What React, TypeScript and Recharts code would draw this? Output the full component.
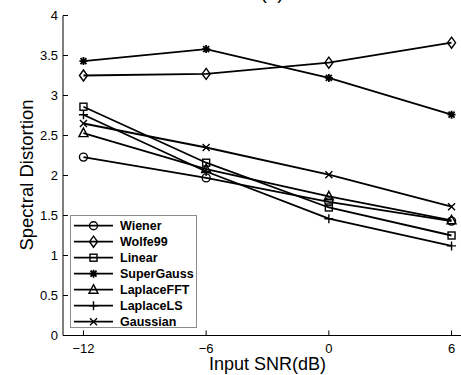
import { LineChart, Line, XAxis, YAxis } from "recharts";

const snr = [-12, -6, 0, 6];
const wiener = [2.23, 1.97, 1.67, 1.43];
const wolfe99 = [3.25, 3.27, 3.41, 3.66];
const linear = [2.86, 2.16, 1.6, 1.25];
const superGauss = [3.43, 3.58, 3.22, 2.76];
const laplaceFFT = [2.53, 2.08, 1.74, 1.44];
const laplaceLS = [2.76, 2.05, 1.46, 1.12];
const gaussian = [2.65, 2.35, 2.01, 1.61];
const yTicks = [0, 0.5, 1, 1.5, 2, 2.5, 3, 3.5, 4];

const series = [
  { key: "wiener", name: "Wiener", values: wiener, marker: "circle" },
  { key: "wolfe99", name: "Wolfe99", values: wolfe99, marker: "diamond" },
  { key: "linear", name: "Linear", values: linear, marker: "square" },
  { key: "superGauss", name: "SuperGauss", values: superGauss, marker: "star" },
  { key: "laplaceFFT", name: "LaplaceFFT", values: laplaceFFT, marker: "triangle" },
  { key: "laplaceLS", name: "LaplaceLS", values: laplaceLS, marker: "plus" },
  { key: "gaussian", name: "Gaussian", values: gaussian, marker: "cross" },
];

const data = snr.map((x, i) => {
  const row: Record<string, number> = { snr: x };
  series.forEach((s) => (row[s.key] = s.values[i]));
  return row;
});

const FONT = '"Liberation Sans", Arial, Helvetica, sans-serif';

function Marker({ shape, cx, cy }: { shape: string; cx: number; cy: number }) {
  const s = { fill: "none", stroke: "#000", strokeWidth: 1.4 };
  switch (shape) {
    case "circle":
      return <circle cx={cx} cy={cy} r={4} {...s} />;
    case "diamond":
      return (
        <polygon
          points={`${cx},${cy - 5.5} ${cx + 4},${cy} ${cx},${cy + 5.5} ${cx - 4},${cy}`}
          {...s}
        />
      );
    case "square":
      return <rect x={cx - 3.5} y={cy - 3.5} width={7} height={7} {...s} />;
    case "triangle":
      return (
        <polygon
          points={`${cx},${cy - 5} ${cx + 4.5},${cy + 3.5} ${cx - 4.5},${cy + 3.5}`}
          {...s}
        />
      );
    case "plus":
      return (
        <path d={`M${cx - 4.5},${cy}H${cx + 4.5}M${cx},${cy - 4.5}V${cy + 4.5}`} {...s} />
      );
    case "cross":
      return (
        <path
          d={`M${cx - 3.5},${cy - 3.5}L${cx + 3.5},${cy + 3.5}M${cx - 3.5},${cy + 3.5}L${cx + 3.5},${cy - 3.5}`}
          {...s}
        />
      );
    default:
      // asterisk
      return (
        <path
          d={`M${cx - 4},${cy}H${cx + 4}M${cx},${cy - 4}V${cy + 4}M${cx - 3},${cy - 3}L${cx + 3},${cy + 3}M${cx - 3},${cy + 3}L${cx + 3},${cy - 3}`}
          fill="none"
          stroke="#000"
          strokeWidth={1.8}
        />
      );
  }
}

const fmtX = (v: number) => (v < 0 ? "\u2212" + Math.abs(v) : String(v));

export default function App() {
  return (
    <div
      style={{
        position: "absolute",
        left: 0,
        top: 0,
        width: 461,
        height: 375,
        overflow: "hidden",
        background: "#fff",
        fontFamily: FONT,
      }}
    >
      <LineChart
        width={475}
        height={375}
        data={data}
        margin={{ top: 15.5, right: 3, bottom: 9.5, left: 8 }}
      >
        <XAxis
          xAxisId="top"
          orientation="top"
          dataKey="snr"
          type="number"
          domain={[-13, 7]}
          ticks={snr}
          tick={false}
          tickSize={-5}
          height={0}
          axisLine={{ stroke: "#000" }}
          tickLine={{ stroke: "#000" }}
        />
        <XAxis
          dataKey="snr"
          type="number"
          domain={[-13, 7]}
          ticks={snr}
          tickFormatter={fmtX}
          tickSize={-5}
          tickMargin={13}
          height={30}
          axisLine={{ stroke: "#000" }}
          tickLine={{ stroke: "#000" }}
          tick={{ fill: "#000", fontSize: 13, fontFamily: FONT }}
        />
        <YAxis
          type="number"
          domain={[0, 4]}
          ticks={yTicks}
          tickSize={-5}
          tickMargin={10}
          width={55}
          axisLine={{ stroke: "#000" }}
          tickLine={{ stroke: "#000" }}
          tick={{ fill: "#000", fontSize: 13, fontFamily: FONT }}
        />
        {series.map((s) => (
          <Line
            key={s.key}
            dataKey={s.key}
            name={s.name}
            stroke="#000"
            strokeWidth={1.8}
            isAnimationActive={false}
            activeDot={false}
            dot={(p: any) => (
              <Marker key={`${s.key}-${p.index}`} shape={s.marker} cx={p.cx} cy={p.cy} />
            )}
          />
        ))}
      </LineChart>
      <svg
        width={461}
        height={375}
        style={{ position: "absolute", left: 0, top: 0, pointerEvents: "none" }}
      >
        <text x={272} y={-1} textAnchor="middle" fontSize={19} fontFamily={FONT}>
          (a)
        </text>
        <text
          x={267.5}
          y={363.5}
          textAnchor="middle"
          dominantBaseline="central"
          fontSize={18}
          fontFamily={FONT}
        >
          Input SNR(dB)
        </text>
        <text
          transform="translate(26,175) rotate(-90)"
          textAnchor="middle"
          dominantBaseline="central"
          fontSize={18.5}
          fontFamily={FONT}
        >
          Spectral Distortion
        </text>
        <rect x={70.5} y={215.5} width={126} height={112} fill="#fff" stroke="#8c8c8c" />
        {series.map((s, i) => {
          const y = 225.7 + i * 16;
          return (
            <g key={s.key}>
              <line x1={74} x2={113} y1={y} y2={y} stroke="#000" strokeWidth={1.8} />
              <Marker shape={s.marker} cx={93.5} cy={y} />
              <text
                x={120}
                y={y}
                dominantBaseline="central"
                fontSize={12.5}
                fontWeight="bold"
                fontFamily={FONT}
              >
                {s.name}
              </text>
            </g>
          );
        })}
      </svg>
    </div>
  );
}
